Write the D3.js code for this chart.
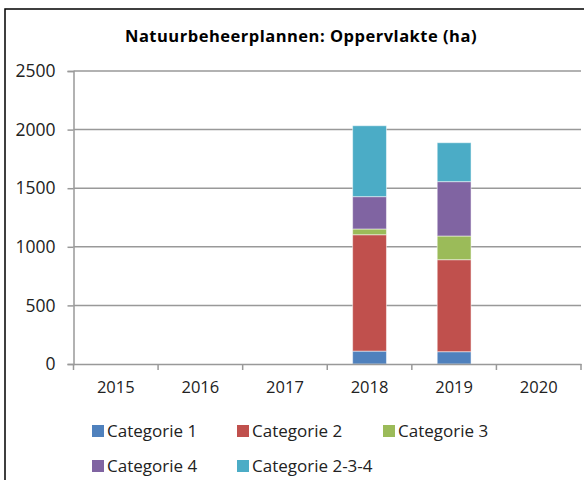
<!DOCTYPE html>
<html><head><meta charset="utf-8">
<script src="https://cdn.jsdelivr.net/npm/d3@7"></script>
<style>body{margin:0;background:#fff}svg{display:block}text{font-family:"Open Sans","Noto Sans",sans-serif}</style>
</head><body>
<svg id="c" width="584" height="480"></svg>
<script>
const years = ["2015","2016","2017","2018","2019","2020"];
const seriesNames = ["Categorie 1","Categorie 2","Categorie 3","Categorie 4","Categorie 2-3-4"];
const cat1 = [0,0,0,110,105,0];
const cat2 = [0,0,0,993,785,0];
const cat3 = [0,0,0,49,202,0];
const cat4 = [0,0,0,276,464,0];
const cat234 = [0,0,0,605,332,0];
const yTicks = [0,500,1000,1500,2000,2500];
const colors = ["#4F81BD","#C0504D","#9BBB59","#8064A2","#4BACC6"];
const title = "Natuurbeheerplannen: Oppervlakte (ha)";

const svg = d3.select("#c");
svg.append("rect").attr("x",5).attr("y",9).attr("width",620).attr("height",520)
  .attr("fill","none").attr("stroke","#000").attr("stroke-width",1.5);

svg.append("text").attr("x",301).attr("y",42).attr("text-anchor","middle")
  .attr("font-size",16.5).attr("letter-spacing",0.5).attr("font-weight","bold").attr("fill","#000").text(title);

const xb = d3.scaleBand().domain(years).range([73.5,581]);
const y = d3.scaleLinear().domain([0,2500]).range([364,71]);

// gridlines
svg.append("g").selectAll("line").data(yTicks.filter(d=>d>0)).join("line")
  .attr("x1",73.5).attr("x2",581).attr("y1",d=>y(d)).attr("y2",d=>y(d))
  .attr("stroke","#999").attr("stroke-width",1.5);

const table = years.map((yr,i)=>({year:yr,"Categorie 1":cat1[i],"Categorie 2":cat2[i],"Categorie 3":cat3[i],"Categorie 4":cat4[i],"Categorie 2-3-4":cat234[i]}));
const stack = d3.stack().keys(seriesNames)(table);
const bw = xb.bandwidth()*0.4;
svg.append("g").selectAll("g").data(stack).join("g").attr("fill",(d,i)=>colors[i])
  .selectAll("rect").data(d=>d.filter(p=>p[1]>p[0])).join("rect")
  .attr("x",d=>xb(d.data.year)+xb.bandwidth()/2-bw/2).attr("width",bw)
  .attr("y",d=>y(d[1])).attr("height",d=>y(d[0])-y(d[1]))
  .attr("stroke","rgba(255,255,255,0.5)").attr("stroke-width",1);

// y axis
const ya = svg.append("g").attr("transform","translate(73.5,0)")
  .call(d3.axisLeft(y).tickValues(yTicks).tickSize(6).tickPadding(12).tickFormat(d3.format("d")));
ya.select(".domain").attr("stroke","#999").attr("stroke-width",1.5);
ya.selectAll(".tick line").attr("stroke","#999").attr("stroke-width",1.5);
ya.selectAll("text").attr("font-size",17.5).attr("fill","#222").attr("font-family","\"Open Sans\",sans-serif");

// x axis
const xa = svg.append("g").attr("transform","translate(0,364)")
  .call(d3.axisBottom(xb).tickSize(0).tickPadding(17));
xa.select(".domain").attr("stroke","#999").attr("stroke-width",1.5);
xa.selectAll("text").attr("font-size",16.5).attr("fill","#222").attr("font-family","\"Open Sans\",sans-serif");
svg.append("g").selectAll("line").data(years.concat(["end"])).join("line")
  .attr("x1",(d,i)=>73.5+i*xb.step()).attr("x2",(d,i)=>73.5+i*xb.step())
  .attr("y1",364).attr("y2",370).attr("stroke","#999").attr("stroke-width",1.5);

// legend
const legPos = [[92,431],[237,431],[383,431],[92,466],[237,466]];
const lg = svg.append("g").selectAll("g").data(seriesNames).join("g")
  .attr("transform",(d,i)=>`translate(${legPos[i][0]},${legPos[i][1]})`);
lg.append("rect").attr("x",0).attr("y",-6).attr("width",12).attr("height",12).attr("fill",(d,i)=>colors[i]);
lg.append("text").attr("x",15).attr("y",0).attr("dy","0.35em").attr("font-size",17).attr("fill","#222").text(d=>d);
</script>
</body></html>
